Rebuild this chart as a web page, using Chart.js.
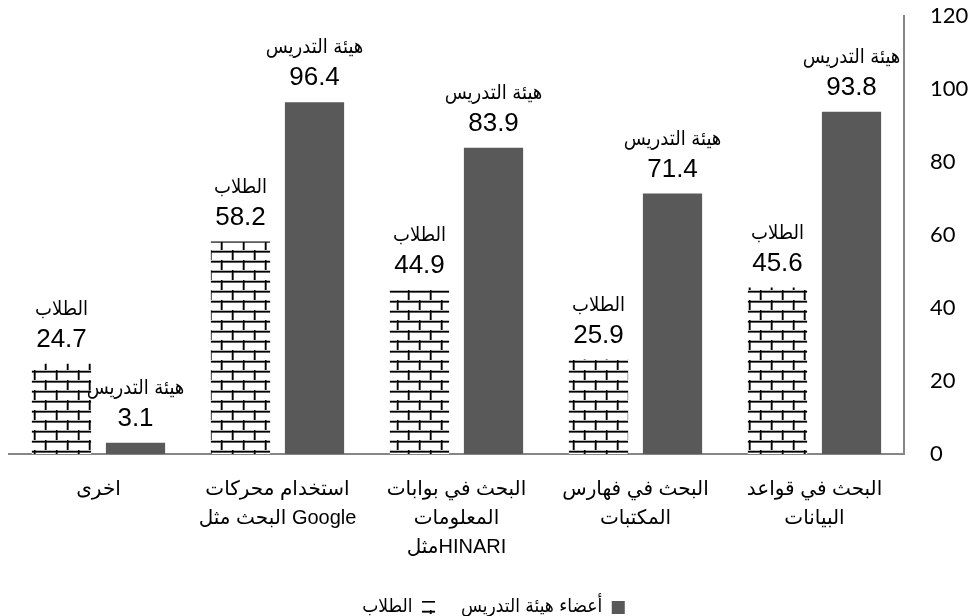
<!DOCTYPE html>
<html>
<head>
<meta charset="utf-8">
<script src="https://cdn.jsdelivr.net/npm/chart.js@4/dist/chart.umd.min.js"></script>
<style>
  html, body { margin: 0; padding: 0; overflow: hidden; background: #fff; }
  #wrap { width: 978px; height: 627px; }
</style>
</head>
<body>
<div id="wrap"><canvas id="chart"></canvas></div>
<script>
// categories, right to left as in the original
const categories = [
  ['البحث في قواعد', 'البيانات'],
  ['البحث في فهارس', 'المكتبات'],
  ['البحث في بوابات', 'المعلومات', 'مثلHINARI'],
  ['استخدام محركات', 'البحث مثل Google'],
  'اخرى'
];
const studentValues = [45.6, 25.9, 44.9, 58.2, 24.7];
const facultyValues = [93.8, 71.4, 83.9, 96.4, 3.1];
const seriesNames = ['الطلاب', 'أعضاء هيئة التدريس'];
const labelNames = ['الطلاب', 'هيئة التدريس'];
const yTicks = [0, 20, 40, 60, 80, 100, 120];

// brick fill for the students series
function brickPattern() {
  const c = document.createElement('canvas');
  c.width = 22; c.height = 20;
  const g = c.getContext('2d');
  g.fillStyle = '#fff';
  g.fillRect(0, 0, 22, 20);
  g.fillStyle = '#bbb';
  g.fillRect(0, 0, 22, 3);
  g.fillRect(0, 10, 22, 3);
  g.fillRect(0, 0, 3, 10);
  g.fillRect(11, 10, 3, 10);
  g.fillStyle = '#000';
  g.fillRect(0, 1, 22, 1.5);
  g.fillRect(0, 11, 22, 1.5);
  g.fillRect(1, 0, 1.5, 10);
  g.fillRect(12, 10, 1.5, 10);
  return g.createPattern(c, 'repeat');
}

// two-line labels above each bar: series name, then value
const barLabels = {
  id: 'barLabels',
  afterDatasetsDraw(chart) {
    const ctx = chart.ctx;
    ctx.save();
    ctx.fillStyle = '#000';
    ctx.textAlign = 'center';
    ctx.textBaseline = 'middle';
    chart.data.datasets.forEach((ds, i) => {
      chart.getDatasetMeta(i).data.forEach((bar, j) => {
        ctx.font = '20px "DejaVu Sans Condensed", "DejaVu Sans"';
        ctx.fillText(labelNames[i], bar.x, bar.y - 54);
        ctx.font = '26px "Liberation Sans", Arial';
        ctx.fillText(ds.data[j].toFixed(1), bar.x, bar.y - 24);
      });
    });
    ctx.restore();
  }
};

const ctx = document.getElementById('chart').getContext('2d');
const chart = new Chart(ctx, {
  type: 'bar',
  data: {
    labels: categories,
    datasets: [{
      label: seriesNames[0],
      data: studentValues,
      backgroundColor: brickPattern(),
      borderWidth: 0
    }, {
      label: seriesNames[1],
      data: facultyValues,
      backgroundColor: '#595959',
      borderWidth: 0
    }]
  },
  options: {
    responsive: true,
    maintainAspectRatio: false,
    animation: false,
    categoryPercentage: 0.827,
    barPercentage: 0.8,
    layout: { padding: { top: 16, left: 9, right: 0, bottom: 0 } },
    plugins: {
      tooltip: { enabled: false },
      legend: {
        position: 'bottom',
        rtl: true,
        reverse: true,
        labels: {
          boxWidth: 13,
          boxHeight: 13,
          padding: 26,
          color: '#000',
          font: { family: '"DejaVu Sans Condensed", "DejaVu Sans"', size: 19 }
        }
      }
    },
    scales: {
      x: {
        reverse: true,
        grid: { display: false, drawTicks: false },
        border: { display: true, color: '#868686', width: 2 },
        ticks: {
          color: '#000',
          padding: 21,
          maxRotation: 0,
          autoSkip: false,
          font: { family: '"Liberation Sans", "DejaVu Sans"', size: 20, lineHeight: 1.45 }
        },
        afterFit(scale) {
          scale.height = 118;
          scale.paddingLeft = 0;
          scale.paddingRight = 0;
        }
      },
      y: {
        position: 'right',
        min: 0,
        max: 120,
        afterBuildTicks(scale) { scale.ticks = yTicks.map(v => ({ value: v })); },
        grid: { display: false, drawTicks: false },
        border: { display: true, color: '#868686', width: 2 },
        ticks: {
          color: '#000',
          padding: 26,
          crossAlign: 'near',
          font: { family: 'Lato', size: 22 }
        },
        afterFit(scale) {
          scale.width = 74;
          scale.paddingTop = 0;
          scale.paddingBottom = 0;
        }
      }
    }
  },
  plugins: [barLabels]
});
</script>
</body>
</html>
